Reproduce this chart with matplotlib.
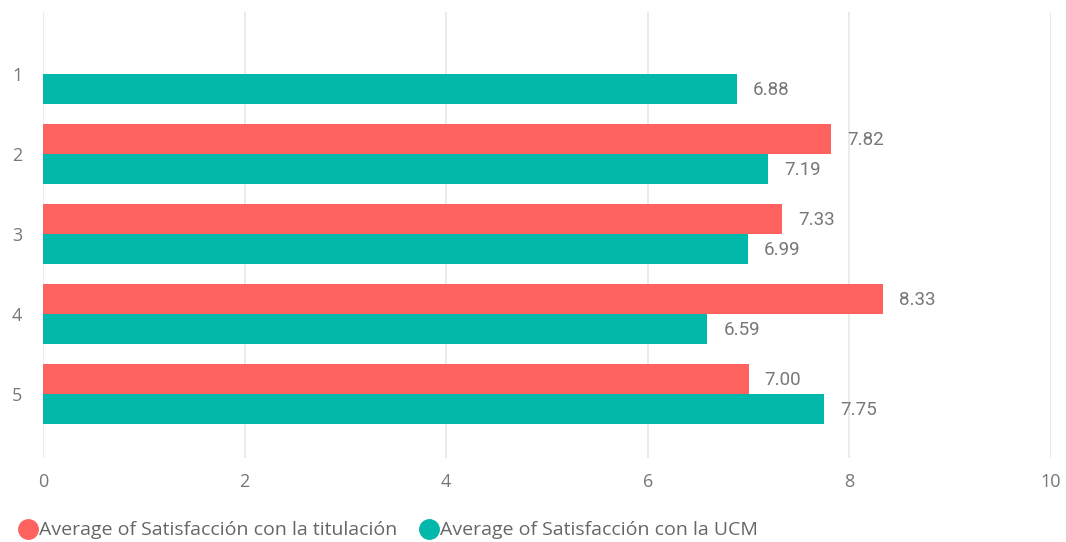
import numpy as np
import matplotlib
matplotlib.use("Agg")
import matplotlib.pyplot as plt
from matplotlib.lines import Line2D

categories = ["1", "2", "3", "4", "5"]
titulacion = [np.nan, 7.82, 7.33, 8.33, 7.00]
ucm = [6.88, 7.19, 6.99, 6.59, 7.75]
series_names = ["Average of Satisfacción con la titulación", "Average of Satisfacción con la UCM"]
colors = ["#FD625E", "#01B8AA"]
xticks = [0, 2, 4, 6, 8, 10]

plt.rcParams['font.family'] = ['Open Sans', 'DejaVu Sans']

fig = plt.figure(figsize=(10.66, 5.42), dpi=100)
ax = fig.add_axes([43/1066, 1-458/542, (1051-43)/1066, (458-12)/542])

pos = np.arange(1, len(categories) + 1)
h = 0.375
for vals, off, col in [(titulacion, -h/2, colors[0]), (ucm, h/2, colors[1])]:
    for p, v in zip(pos, vals):
        if np.isnan(v):
            continue
        ax.barh(p + off, v, height=h, color=col, edgecolor='none', zorder=3)
        ax.annotate(f"{v:.2f}", xy=(v, p + off), xytext=(16, -1), textcoords='offset pixels',
                    va='center', ha='left', fontsize=13.5, color='#777777',
                    family=['Roboto', 'DejaVu Sans'], zorder=4)

ax.set_xlim(0, 10)
ax.set_ylim(5.8, 0.225)
ax.set_xticks(xticks)
ax.set_xticklabels([str(t) for t in xticks])
ax.set_yticks(pos)
ax.set_yticklabels(categories)
ax.grid(axis='x', color='#E8E8E8', linewidth=1.2, zorder=0)
ax.grid(axis='y', visible=False)
for s in ax.spines.values():
    s.set_visible(False)
ax.tick_params(axis='both', length=0, labelsize=13, colors='#777777')
ax.tick_params(axis='x', pad=11)
ax.tick_params(axis='y', pad=15)

handles = [Line2D([], [], marker='o', linestyle='none', markersize=14, color=c) for c in colors]
leg = fig.legend(handles, series_names, loc='lower left', bbox_to_anchor=(4/1066, -11/542),
                 ncol=2, frameon=False, fontsize=14, handletextpad=0.0, columnspacing=1.1,
                 handlelength=1.1, borderaxespad=0.3)
for t in leg.get_texts():
    t.set_color('#666666')

fig.savefig("out.png", dpi=100, facecolor='white')
